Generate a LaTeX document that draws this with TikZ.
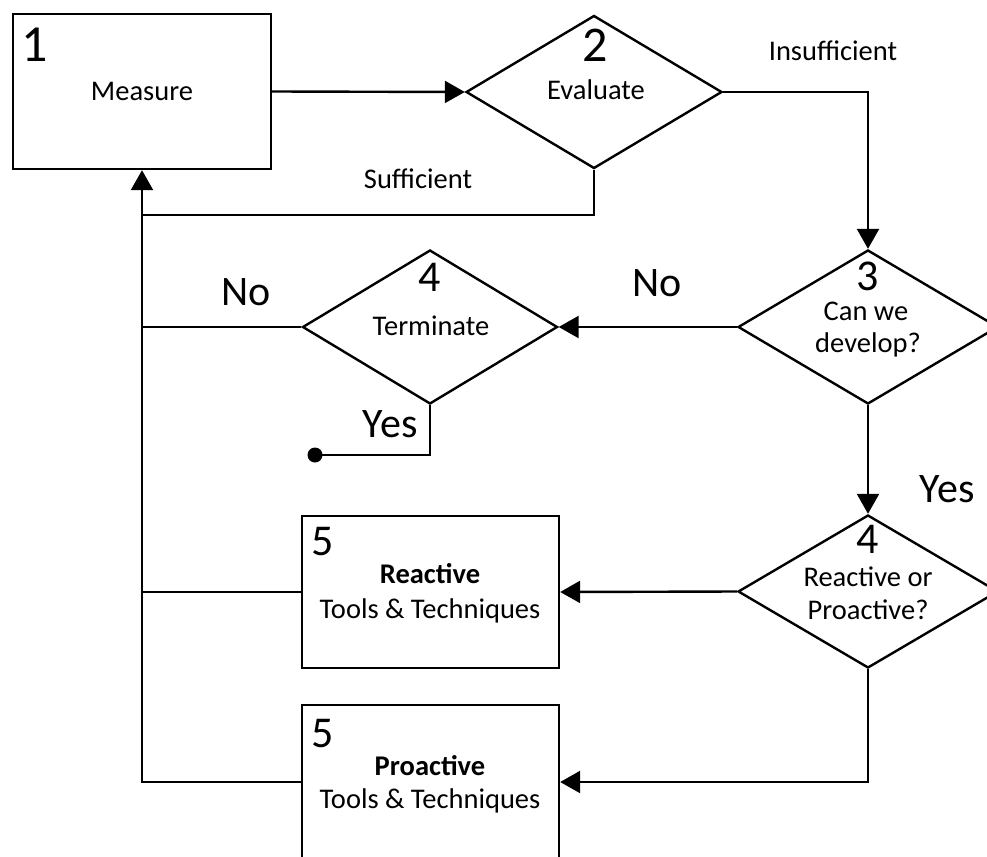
\documentclass[tikz,border=0pt]{standalone}
\usepackage{fontspec}
\setmainfont{Carlito}
\usetikzlibrary{shapes.geometric,arrows.meta}

\tikzset{
  stepbox/.style={draw, line width=2.4pt, rectangle, inner sep=0pt},
  decision/.style={draw, line width=2.4pt, diamond, inner sep=0pt, aspect=1},
  wire/.style={line width=2.4pt},
  arr/.style={wire, -{Triangle[length=20pt,width=22pt]}},
  lbl/.style={anchor=base, inner sep=0pt, font=\fontsize{28.5}{32}\selectfont},
  blbl/.style={lbl, font=\fontsize{28.5}{32}\selectfont\bfseries},
  num/.style={anchor=base, inner sep=0pt, font=\fontsize{44}{48}\selectfont},
  big/.style={anchor=base, inner sep=0pt, font=\fontsize{42}{46}\selectfont},
}

\begin{document}
\begin{tikzpicture}[x=1pt, y=-1pt]
\useasboundingbox (0,0) rectangle (987,856);
\clip (0,0) rectangle (987,856);

% shapes
\node[stepbox, minimum width=258pt, minimum height=155pt] (meas) at (142,91.5) {};
\node[decision, minimum width=256pt, minimum height=153pt] (eval) at (594,92) {};
\node[decision, minimum width=260pt, minimum height=154pt] (dev) at (868,327) {};
\node[decision, minimum width=255pt, minimum height=154pt] (term) at (430,327) {};
\node[decision, minimum width=260pt, minimum height=153pt] (rp) at (868,591.5) {};
\node[stepbox, minimum width=257pt, minimum height=152pt] (rea) at (430.5,592) {};
\node[stepbox, minimum width=257pt, minimum height=154pt] (pro) at (430.5,782) {};

% texts
\node[num, font=\fontsize{52}{56}\selectfont] (n1) at (35,62) {1};
\node[lbl] (tmeas) at (142,101) {Measure};
\node[num, font=\fontsize{50}{54}\selectfont] (n2) at (595,62) {2};
\node[lbl] (teval) at (596,100) {Evaluate};
\node[lbl] (tins) at (833,61) {Insufficient};
\node[lbl] (tsuf) at (418,188) {Sufficient};
\node[num] (n3) at (868,290) {3};
\node[lbl] (tcan) at (866,320) {Can we};
\node[lbl] (tdev) at (868,352) {develop?};
\node[big] (tno1) at (657,296) {No};
\node[num] (n4a) at (430,291) {4};
\node[lbl] (tterm) at (431,335) {Terminate};
\node[big] (tno2) at (246,305) {No};
\node[big] (tyes1) at (390,437) {Yes};
\node[big] (tyes2) at (947,502) {Yes};
\node[num] (n4b) at (868,553) {4};
\node[lbl] (trp1) at (868,586) {Reactive or};
\node[lbl] (trp2) at (868,619) {Proactive?};
\node[num] (n5a) at (323,555) {5};
\node[blbl] (trea) at (430,583) {Reactive};
\node[lbl] (ttool1) at (430,618) {Tools \& Techniques};
\node[num] (n5b) at (323,747) {5};
\node[blbl] (tpro) at (430,775) {Proactive};
\node[lbl] (ttool2) at (430,808) {Tools \& Techniques};

% connectors
\coordinate (suf) at (142,215);
\coordinate (stop) at (315,455);
\draw[arr] (meas.east) -- (eval.west);
\draw[arr] (eval.east) -| (dev.north);
\draw[wire] (eval.south) |- (suf);
\draw[arr] (dev.west) -- (term.east);
\draw[wire] (term.west) -- (term.west -| meas.south);
\draw[wire] (term.south) |- (stop);
\fill (stop) circle (7.5pt);
\draw[arr] (dev.south) -- (rp.north);
\draw[arr] (rp.west) -- (rea.east);
\draw[wire] (rea.west) -- (rea.west -| meas.south);
\draw[arr] (rp.south) |- (pro.east);
\draw[arr] (pro.west) -| (meas.south);
\end{tikzpicture}
\end{document}
